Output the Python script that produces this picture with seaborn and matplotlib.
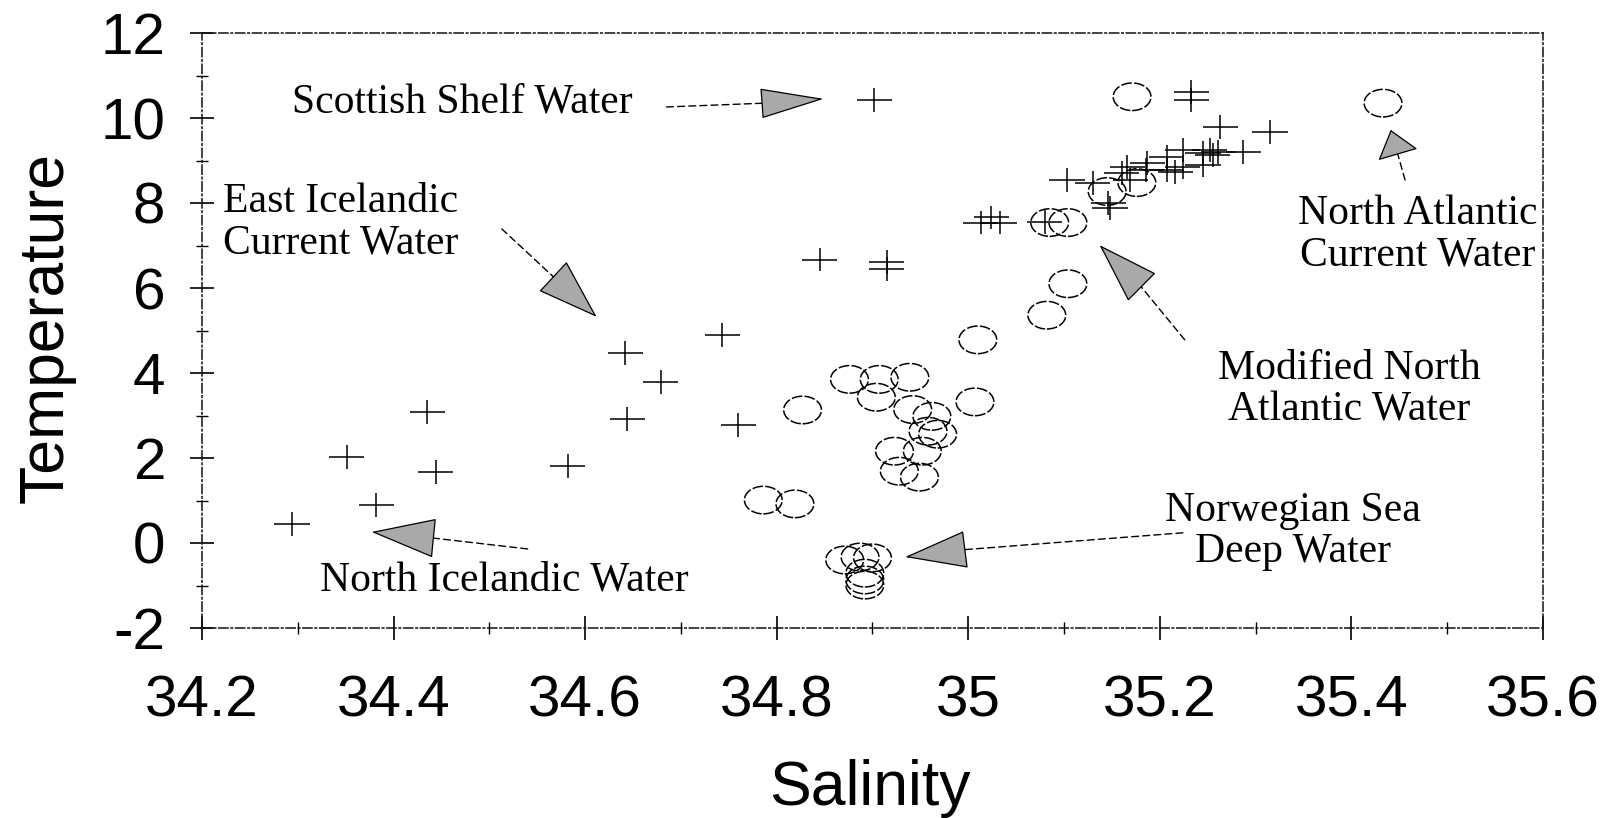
import numpy as np
import pandas as pd
import matplotlib
matplotlib.use("Agg")
import matplotlib.pyplot as plt
from matplotlib.path import Path
from matplotlib.ticker import MultipleLocator
import seaborn as sns

# '+' stations
cross_sal = [34.294, 34.351, 34.382, 34.435, 34.444, 34.582, 34.642, 34.644, 34.679,
             34.743, 34.760, 34.845, 34.915, 34.915, 34.902, 35.013, 35.024, 35.033,
             35.080, 35.103, 35.130, 35.146, 35.148, 35.160, 35.166, 35.169, 35.186,
             35.187, 35.207, 35.207, 35.216, 35.224, 35.224, 35.233, 35.233, 35.245,
             35.245, 35.252, 35.255, 35.261, 35.263, 35.287, 35.315]
cross_temp = [0.45, 2.02, 0.89, 3.08, 1.67, 1.81, 4.47, 2.92, 3.79,
              4.89, 2.78, 6.67, 6.62, 6.45, 10.43, 7.54, 7.66, 7.54,
              7.56, 8.54, 8.47, 8.00, 7.88, 8.71, 8.85, 8.54, 8.78,
              8.94, 8.78, 9.08, 8.73, 8.85, 9.25, 10.61, 10.43, 8.89,
              9.18, 9.25, 9.13, 9.20, 9.79, 9.20, 9.67]

# ellipse stations
oval_sal = [35.171, 35.433, 35.085, 35.104, 35.145, 35.176, 35.104, 35.082, 35.010,
            35.007, 34.827, 34.876, 34.907, 34.939, 34.904, 34.942, 34.962, 34.958,
            34.968, 34.923, 34.952, 34.928, 34.949, 34.786, 34.819, 34.871, 34.887,
            34.900, 34.892, 34.892, 34.892]
oval_temp = [10.50, 10.35, 7.54, 7.54, 8.27, 8.48, 6.10, 5.36, 4.78,
             3.32, 3.13, 3.85, 3.85, 3.90, 3.43, 3.14, 2.98, 2.63,
             2.56, 2.16, 2.16, 1.69, 1.55, 1.01, 0.92, -0.40, -0.33,
             -0.35, -0.71, -0.87, -0.99]

# water mass labels: text, text pos, ha, line start, head base, head tip, head length/width (px)
labels = ["Scottish Shelf Water", "East Icelandic\nCurrent Water", "North Icelandic Water",
          "Norwegian Sea\nDeep Water", "Modified North\nAtlantic Water", "North Atlantic\nCurrent Water"]
label_xy = [(34.294, 10.38), (34.222, 7.53), (34.323, -0.87),
            (35.339, 0.28), (35.398, 3.62), (35.469, 7.25)]
label_ha = ["left", "left", "left", "center", "center", "center"]
line_start = [(34.685, 10.26), (34.513, 7.39), (34.540, -0.14),
              (35.224, 0.24), (35.226, 4.78), (35.456, 8.54)]
head_base = [(34.788, 10.35), (34.568, 6.24), (34.440, 0.12),
             (34.994, -0.16), (35.179, 6.07), (35.448, 9.18)]
head_tip = [(34.849, 10.45), (34.612, 5.32), (34.377, 0.26),
            (34.934, -0.33), (35.137, 7.01), (35.441, 9.72)]
head_len = [59, 57, 60, 58, 57, 24]
head_wid = [28, 38, 37, 35, 37, 38]

sns.set_style("white")
plt.rcParams["font.family"] = ["Liberation Sans", "DejaVu Sans"]
plt.rcParams["axes.unicode_minus"] = False
plt.rcParams["text.color"] = "black"
plt.rcParams["axes.labelcolor"] = "black"
plt.rcParams["xtick.color"] = "black"
plt.rcParams["ytick.color"] = "black"

fig = plt.figure(figsize=(16.06, 8.18), dpi=100)
ax = fig.add_axes([202 / 1606, 1 - 628 / 818, 1341 / 1606, 595 / 818])

circ = Path.unit_circle()
ellipse_marker = Path(circ.vertices * np.array([1.0, 0.73]), circ.codes)
plus_marker = Path([[-1, 0], [1, 0], [0, -0.68], [0, 0.68]],
                   [Path.MOVETO, Path.LINETO, Path.MOVETO, Path.LINETO])

df_cross = pd.DataFrame({"Salinity": cross_sal, "Temperature": cross_temp})
df_oval = pd.DataFrame({"Salinity": oval_sal, "Temperature": oval_temp})

sns.scatterplot(data=df_cross, x="Salinity", y="Temperature", ax=ax, marker=plus_marker,
                s=640, facecolor="none", edgecolor="black", linewidth=1.1, zorder=3)
sns.scatterplot(data=df_oval, x="Salinity", y="Temperature", ax=ax, marker=ellipse_marker,
                s=740, facecolor="none", edgecolor="black", linewidth=1.1,
                linestyle=(0, (7, 1.5)), zorder=3)

px2pt = 72 / 100
for i in range(len(labels)):
    ax.annotate("", xy=head_base[i], xytext=line_start[i],
                arrowprops=dict(arrowstyle="-", lw=1.0, ls=(0, (5, 3)), color="black",
                                shrinkA=0, shrinkB=0))
    ax.annotate("", xy=head_tip[i], xytext=head_base[i],
                arrowprops=dict(arrowstyle="-|>,head_length=%.1f,head_width=%.1f"
                                % (head_len[i] * px2pt, head_wid[i] / 2 * px2pt),
                                mutation_scale=1, fc="#a9a9a9", ec="black", lw=0.9,
                                shrinkA=0, shrinkB=0))
    ax.text(label_xy[i][0], label_xy[i][1], labels[i], ha=label_ha[i], va="center",
            fontsize=30, family=["Liberation Serif", "DejaVu Serif"], linespacing=1.1)

ax.set_xlim(34.2, 35.6)
ax.set_ylim(-2, 12)
ax.xaxis.set_minor_locator(MultipleLocator(0.1))
ax.yaxis.set_major_locator(MultipleLocator(2))
ax.yaxis.set_minor_locator(MultipleLocator(1))
ax.set_xticks(np.arange(34.2, 35.61, 0.2))
ax.set_xticklabels(["34.2", "34.4", "34.6", "34.8", "35", "35.2", "35.4", "35.6"])
ax.tick_params(which="major", direction="inout", length=17, width=1.2, labelsize=42,
               pad=18, bottom=True, left=True)
ax.tick_params(axis="x", which="major", pad=25)
ax.tick_params(which="minor", direction="inout", length=8, width=1.0,
               bottom=True, left=True)

ax.set_xlabel("Salinity", fontsize=45)
ax.set_ylabel("Temperature", fontsize=45)
ax.xaxis.set_label_coords(0.498, -0.27)
ax.xaxis.label.set_va("center")
ax.yaxis.set_label_coords(-0.116, 0.505)
ax.yaxis.label.set_va("center")

for side in ["top", "right", "left", "bottom"]:
    ax.spines[side].set_visible(True)
    ax.spines[side].set_color("#111111")
    ax.spines[side].set_linewidth(1.1)
    ax.spines[side].set_linestyle((0, (6, 2, 1, 2)))

fig.savefig("out.png", dpi=100)
